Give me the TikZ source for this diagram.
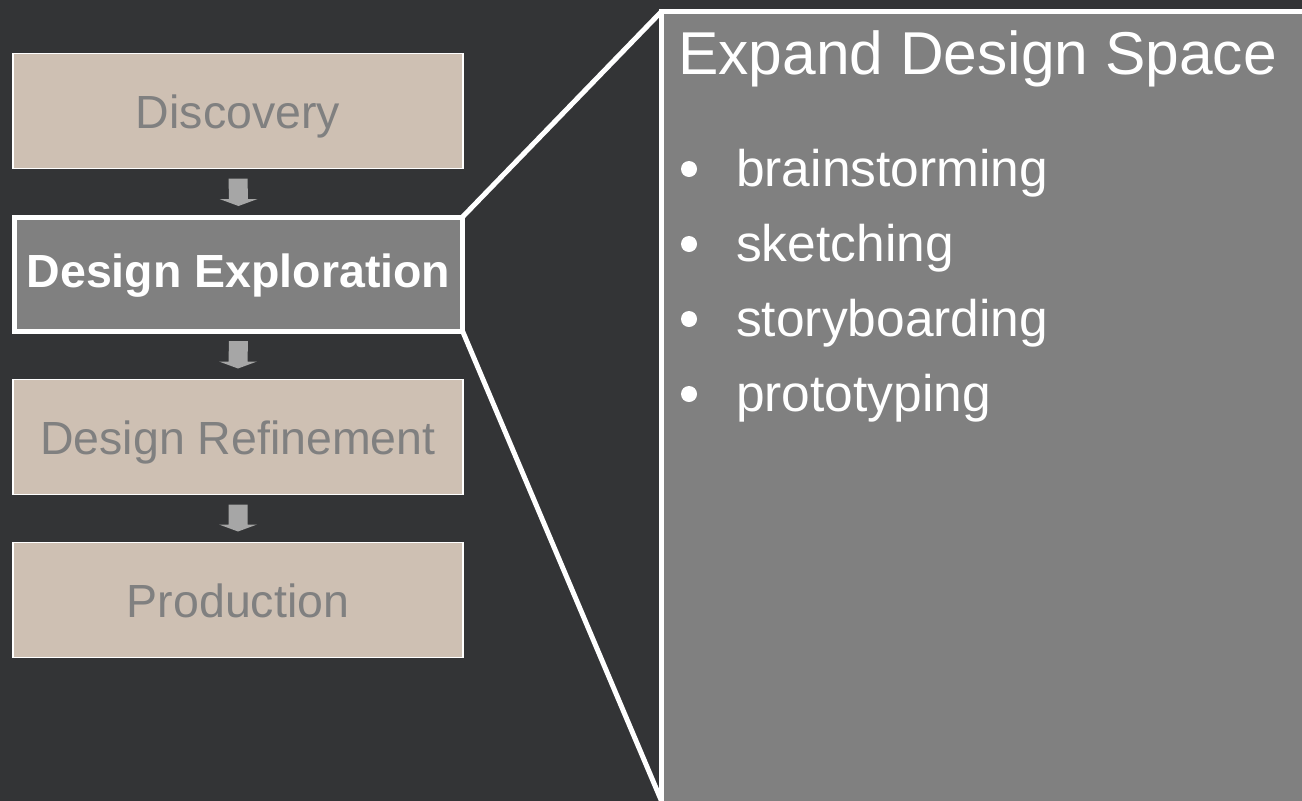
\documentclass[tikz,border=0pt]{standalone}
\usepackage{fontspec}
\setmainfont{Liberation Sans}
\usetikzlibrary{calc}
\definecolor{bg}{HTML}{333436}
\definecolor{beige}{HTML}{CEC0B3}
\definecolor{midgray}{HTML}{808080}
\definecolor{arrgray}{HTML}{A6A6A6}
\tikzset{
  stage/.style={rectangle, minimum width=450pt, minimum height=115pt, inner sep=0pt, outer sep=0pt,
    fill=beige, draw=white, line width=1.3pt, text=midgray,
    font=\fontsize{46.5}{46.5}\selectfont, text height=34pt, text depth=0pt},
  active/.style={rectangle, minimum width=448pt, minimum height=114pt, inner sep=0pt, outer sep=0pt,
    fill=midgray, draw=white, line width=5pt, text=white,
    font=\bfseries\fontsize{46.5}{46.5}\selectfont, text height=26pt, text depth=0pt},
  blockarr/.style={fill=arrgray},
  zoomline/.style={draw=white, line width=5pt},
  title/.style={anchor=base west, text=white, inner sep=0pt, font=\fontsize{60.5}{60.5}\selectfont},
  item/.style={anchor=base west, text=white, inner sep=0pt, font=\fontsize{51.5}{51.5}\selectfont},
  dot/.style={circle, fill=white, minimum size=16pt, inner sep=0pt}
}
\newcommand\blockarrow[2]{%
  \fill[blockarr] ($(#1.south)+(-9.5,10)$) -- ($(#1.south)+(9.5,10)$) -- ($(#2.north)+(9.5,-18)$)
    -- ($(#2.north)+(19,-18)$) -- ($(#2.north)+(0,-11)$) -- ($(#2.north)+(-19,-18)$)
    -- ($(#2.north)+(-9.5,-18)$) -- cycle;}
\begin{document}
\begin{tikzpicture}[x=1pt,y=-1pt]
\useasboundingbox (0,0) rectangle (1302,801);
\clip (0,0) rectangle (1302,801);
\fill[bg] (0,0) rectangle (1302,801);
% stages
\node[stage] (disc) at (238,111) {Discovery};
\node[active] (expl) at (238.5,274) {Design Exploration};
\node[stage] (refi) at (238,437) {Design Refinement};
\node[stage] (prod) at (238,600) {Production};
\blockarrow{disc}{expl}
\blockarrow{expl}{refi}
\blockarrow{refi}{prod}
% detail panel
\node[rectangle, fill=midgray, draw=white, line width=5.5pt, inner sep=0pt, outer sep=0pt,
      minimum width=680pt, minimum height=820pt, anchor=north west] (panel) at (661.5,11.5) {};
\coordinate (pbot) at (661.5,801);
\draw[zoomline] (expl.north east) -- (panel.north west);
\draw[zoomline] (expl.south east) -- (pbot);
% texts
\node[title] (ttl) at (678,74) {Expand Design Space};
\node[dot] (d1) at (689,169) {};
\node[item] (i1) at (736,186) {brainstorming};
\node[dot] (d2) at (689,244) {};
\node[item] (i2) at (736,261) {sketching};
\node[dot] (d3) at (689,319) {};
\node[item] (i3) at (736,336) {storyboarding};
\node[dot] (d4) at (689,394) {};
\node[item] (i4) at (736,411) {prototyping};
\end{tikzpicture}
\end{document}
